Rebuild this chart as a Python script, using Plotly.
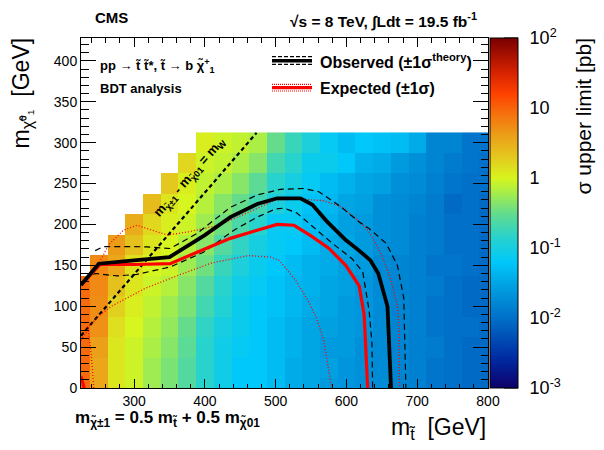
import math
import plotly.graph_objects as go

# ---------------- data ----------------
stop_centers = [225, 250, 275, 300, 325, 350, 375, 400, 425, 450, 475, 500,
                525, 550, 575, 600, 625, 650, 675, 700, 725, 750, 775, 800]
lsp_centers = [0, 25, 50, 75, 100, 125, 150, 175, 200, 225, 250, 275, 300]

# log10(sigma upper limit / pb), one list per stop mass column (from LSP = 0 upward)
sigma_log10 = [
    [0.95, 0.95, 0.95, 0.95, 0.95, 0.95],
    [0.55, 0.55, 0.6, 0.7, 0.72, 0.75, 0.75],
    [0.1, 0.1, 0.1, 0.15, 0.25, 0.35, 0.55, 0.62],
    [-0.05, -0.05, -0.05, 0.0, 0.05, 0.1, 0.15, 0.35, 0.5],
    [-0.25, -0.25, -0.2, -0.15, -0.1, -0.05, 0.0, 0.1, 0.2, 0.4],
    [-0.4, -0.4, -0.35, -0.3, -0.25, -0.15, -0.05, 0.0, 0.05, 0.1, 0.3],
    [-0.6, -0.6, -0.55, -0.5, -0.4, -0.35, -0.25, -0.15, -0.05, 0.0, 0.05, 0.2],
    [-0.85, -0.85, -0.85, -0.8, -0.7, -0.6, -0.45, -0.35, -0.25, -0.15, -0.1, -0.05, 0.05],
    [-1.05, -1.05, -1.05, -1.0, -0.9, -0.85, -0.75, -0.6, -0.45, -0.35, -0.2, -0.1, -0.05],
    [-1.2, -1.2, -1.15, -1.1, -1.1, -1.05, -0.95, -0.8, -0.65, -0.5, -0.35, -0.2, -0.1],
    [-1.2, -1.2, -1.2, -1.2, -1.2, -1.15, -1.1, -1.0, -0.85, -0.7, -0.55, -0.35, -0.2],
    [-1.3, -1.3, -1.3, -1.3, -1.25, -1.25, -1.2, -1.15, -1.15, -0.95, -0.85, -0.7, -0.5],
    [-1.45, -1.45, -1.4, -1.4, -1.35, -1.35, -1.3, -1.2, -1.15, -1.1, -1.0, -0.85, -0.75],
    [-1.5, -1.5, -1.5, -1.5, -1.45, -1.4, -1.4, -1.3, -1.3, -1.25, -1.15, -1.1, -0.95],
    [-1.6, -1.55, -1.6, -1.55, -1.5, -1.5, -1.45, -1.45, -1.4, -1.35, -1.3, -1.1, -1.15],
    [-1.65, -1.65, -1.6, -1.6, -1.6, -1.55, -1.55, -1.5, -1.55, -1.5, -1.4, -1.2, -1.3],
    [-1.7, -1.7, -1.7, -1.65, -1.65, -1.65, -1.6, -1.6, -1.6, -1.55, -1.5, -1.4, -1.2],
    [-1.75, -1.75, -1.75, -1.75, -1.75, -1.75, -1.75, -1.7, -1.7, -1.7, -1.55, -1.45, -1.25],
    [-1.8, -1.8, -1.8, -1.8, -1.8, -1.8, -1.8, -1.75, -1.75, -1.75, -1.7, -1.6, -1.3],
    [-1.85, -1.85, -1.85, -1.85, -1.85, -1.85, -1.85, -1.85, -1.85, -1.8, -1.75, -1.7, -1.45],
    [-1.95, -1.95, -1.9, -1.95, -1.95, -1.9, -1.95, -1.9, -1.9, -1.9, -1.85, -1.8, -1.8],
    [-2.0, -2.0, -2.0, -2.0, -2.0, -2.0, -1.95, -2.0, -2.0, -2.05, -1.95, -1.9, -1.8],
    [-2.05, -2.05, -2.05, -2.0, -2.05, -2.05, -2.0, -2.0, -2.0, -2.0, -2.0, -1.95, -1.95],
    [-2.05, -2.05, -2.05, -2.05, -2.05, -2.05, -2.05, -2.05, -2.05, -2.05, -2.0, -2.0, -1.95],
]

# exclusion contours (stop mass, LSP mass)
obs_x = [225, 250, 300, 350, 400, 436, 474, 502, 535, 552, 571, 599, 618, 634, 645, 658, 663]
obs_y = [126, 152, 156, 160, 187, 209, 225, 232, 232, 224, 205, 181, 168, 156, 140, 100, 0]

obs_up_x = [245, 257, 285, 318, 351, 389, 436, 474, 507, 540, 561, 590, 618, 632, 656, 672, 681, 684]
obs_up_y = [168, 173, 173, 172.6, 170.6, 189, 221, 236, 243, 244, 240, 223, 203, 195, 177, 150, 110, 0]

obs_dn_x = [230, 245, 276, 304, 351, 398, 441, 474, 500, 512, 530, 552, 580, 608, 623, 632, 636, 637]
obs_dn_y = [133, 140, 137, 139, 148, 166, 193, 209, 219, 220, 214, 198, 177, 158, 142, 95, 55, 0]

exp_x = [225, 252, 300, 351, 389, 436, 474, 502, 526, 550, 575, 599, 618, 625, 630, None, 225, 229.5]
exp_y = [126, 151, 151, 152, 166, 183, 193, 200, 199, 186, 171, 150, 125, 90, 0, None, 14, 0]

exp_up_x = [245, 252, 264, 285, 304, 323, 347, 377, 419, 462, 500, 535, 568, 594, 622, 632, 648, 660, 667, 672, 674, 675]
exp_up_y = [148, 155, 175, 193, 199, 194, 187, 191, 199, 215, 230, 231, 229, 221, 201, 191, 166, 140, 115, 101, 75, 0]

exp_dn_x = [243, 240, 235, 250, 268, 316, 363, 410, 462, 493, 505, 528, 545, 558, 568, 579, None, 225, 235]
exp_dn_y = [0, 36, 74, 88, 100, 122, 138, 153, 162, 160, 156, 132, 108, 85, 58, 0, None, 58, 72]

# m_chargino - m_LSP = m_W line
wline_x = [225, 473]
wline_y = [64, 312]

cbar_tickvals = [-3, -2, -1, 0, 1, 2]
cbar_ticktext = ["10<sup>-3</sup>", "10<sup>-2</sup>", "10<sup>-1</sup>", "1", "10", "10<sup>2</sup>"]

# ---------------- build z grid ----------------
z = []
for j in range(len(lsp_centers)):
    row = []
    for i in range(len(stop_centers)):
        col = sigma_log10[i]
        row.append(col[j] if j < len(col) else None)
    z.append(row)

FONT = "Liberation Sans, Arial, Helvetica, sans-serif"

colorscale = [
    [0.00, "rgb(15,0,105)"],
    [0.08, "rgb(0,40,160)"],
    [0.20, "rgb(0,112,200)"],
    [0.30, "rgb(0,165,228)"],
    [0.36, "rgb(0,200,250)"],
    [0.43, "rgb(40,210,205)"],
    [0.50, "rgb(100,220,140)"],
    [0.56, "rgb(170,238,70)"],
    [0.60, "rgb(215,245,30)"],
    [0.66, "rgb(228,200,30)"],
    [0.72, "rgb(235,160,25)"],
    [0.78, "rgb(245,115,15)"],
    [0.84, "rgb(255,65,0)"],
    [0.90, "rgb(215,35,0)"],
    [1.00, "rgb(120,0,0)"],
]

# page has an 8px body margin: figure px = page px - 8
ML, MT, PW, PH = 73, 30, 407, 350
FW, FH = 596, 442

fig = go.Figure()
fig.add_trace(go.Heatmap(
    x=stop_centers, y=lsp_centers, z=z, zmin=-3, zmax=2,
    colorscale=colorscale, hoverongaps=False,
    colorbar=dict(
        x=(490 - 81) / 407, xanchor="left", xpad=0, ypad=0,
        thickness=28, len=1, lenmode="fraction", y=0.5, yanchor="middle",
        outlinewidth=1, outlinecolor="black",
        tickvals=cbar_tickvals, ticktext=cbar_ticktext,
        ticks="outside", ticklen=8, tickcolor="rgba(0,0,0,0)", tickwidth=1,
        tickfont=dict(family=FONT, size=18, color="black"),
    ),
))

def line(x, y, color, width, dash="solid"):
    fig.add_trace(go.Scatter(x=x, y=y, mode="lines", hoverinfo="skip",
                             line=dict(color=color, width=width, dash=dash),
                             connectgaps=False, showlegend=False))

line(wline_x, wline_y, "black", 2.2, "4px,3px")
line(exp_up_x, exp_up_y, "red", 1.3, "1px,2px")
line(exp_dn_x, exp_dn_y, "red", 1.3, "1px,2px")
line(obs_up_x, obs_up_y, "black", 1.2, "6px,4px")
line(obs_dn_x, obs_dn_y, "black", 1.2, "6px,4px")
line(exp_x, exp_y, "red", 3.2)
line(obs_x, obs_y, "black", 3.8)

# page-pixel -> paper coordinates (plot area spans page x 81..488, y 38..388)
def px_x(p):
    return (p - 81) / 407

def px_y(p):
    return (388 - p) / 350

shapes = []
for yy, w, dash in [(60.7, 3.5, "solid"), (56.7, 1.2, "4px,2px"), (64.3, 1.2, "4px,2px")]:
    shapes.append(dict(type="line", xref="paper", yref="paper", x0=px_x(272), x1=px_x(312),
                       y0=px_y(yy), y1=px_y(yy), line=dict(color="black", width=w, dash=dash)))
for yy, w, dash in [(87.7, 3.2, "solid"), (84.3, 1.2, "1px,1px"), (91.0, 1.2, "1px,1px")]:
    shapes.append(dict(type="line", xref="paper", yref="paper", x0=px_x(272), x1=px_x(312),
                       y0=px_y(yy), y1=px_y(yy), line=dict(color="red", width=w, dash=dash)))
# colorbar ticks drawn inside the bar, on its right edge
for d in range(-3, 3):
    for k in range(1, 10):
        if d == 2 and k > 1:
            break
        yv = (d + math.log10(k) + 3) / 5
        tl = 14 if k == 1 else 7
        shapes.append(dict(type="line", xref="paper", yref="paper",
                           x0=px_x(518 - tl), x1=px_x(518), y0=yv, y1=yv,
                           line=dict(color="black", width=1)))

ann = []
def text(x, y, s, size, xanchor="left", yanchor="middle", angle=0, xref="paper", yref="paper", pad=1):
    ann.append(dict(x=x, y=y, xref=xref, yref=yref, text=s, showarrow=False,
                    xanchor=xanchor, yanchor=yanchor, textangle=angle, borderpad=pad,
                    font=dict(family=FONT, size=size, color="black")))

text(px_x(111), px_y(8.5), "<b>CMS</b>", 15, xanchor="center", yanchor="top", pad=0)
text(px_x(289), px_y(8.5), "<b>√s = 8 TeV, ∫Ldt = 19.5 fb<sup>-1</sup></b>", 15.5, yanchor="top", pad=0)
text(px_x(98), px_y(66), "<b>pp → t̃ t̃*, t̃ → b χ̃<sup>+</sup><sub>1</sub></b>", 13)
text(px_x(98), px_y(88), "<b>BDT analysis</b>", 13)
text(px_x(318), px_y(61), "<b>Observed (±1σ<sup>theory</sup>)</b>", 16)
text(px_x(318), px_y(88), "<b>Expected (±1σ)</b>", 16)
text(px_x(73), px_y(419), "<b>m<sub>χ̃±1</sub> = 0.5 m<sub>t̃</sub> + 0.5 m<sub>χ̃01</sub></b>", 17)
text(1.0, px_y(428), "m<sub>t̃</sub>  [GeV]", 23, xanchor="right")
text(px_x(22), px_y(36), "m<sub>χ̃⁰₁</sub>  [GeV]", 23, xanchor="center", yanchor="top", angle=-90)
text(px_x(583), px_y(36), "σ upper limit [pb]", 21, xanchor="center", yanchor="top", angle=-90)
text(378, 258, "<b>m<sub>χ̃±1</sub> - m<sub>χ̃01</sub> = m<sub>W</sub></b>", 13,
     xanchor="center", angle=-49, xref="x", yref="y")

fig.update_layout(
    width=FW, height=FH,
    margin=dict(l=ML, r=FW - ML - PW, t=MT, b=FH - MT - PH, autoexpand=False),
    paper_bgcolor="white", plot_bgcolor="white",
    showlegend=False,
    shapes=shapes, annotations=ann,
    font=dict(family=FONT, color="black"),
    xaxis=dict(range=[225, 800], tick0=0, dtick=100, ticks="inside", ticklen=9,
               tickcolor="black", showline=True, linecolor="black", linewidth=1,
               mirror="allticks", showgrid=False, zeroline=False,
               tickfont=dict(family=FONT, size=14, color="black"),
               minor=dict(ticks="inside", ticklen=4.5, tick0=0, dtick=20, tickcolor="black", showgrid=False)),
    yaxis=dict(range=[0, 428], tick0=0, dtick=50, ticks="inside", ticklen=15,
               tickcolor="black", showline=True, linecolor="black", linewidth=1,
               mirror="allticks", showgrid=False, zeroline=False,
               tickfont=dict(family=FONT, size=14, color="black"),
               minor=dict(ticks="inside", ticklen=7.5, tick0=0, dtick=10, tickcolor="black", showgrid=False)),
)

fig.write_html("out.html")
